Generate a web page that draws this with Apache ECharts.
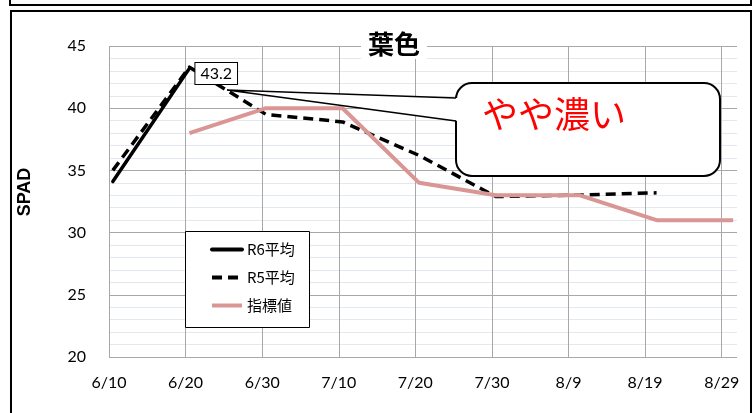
<!DOCTYPE html>
<html>
<head>
<meta charset="utf-8">
<script src="https://cdn.jsdelivr.net/npm/echarts@6/dist/echarts.min.js"></script>
<style>
  html, body { margin: 0; padding: 0; background: #fff; }
  #chart { width: 753px; height: 413px; }
</style>
</head>
<body>
<div id="chart"></div>
<script>
// Tick labels of the date axis (every 10 days from 6/10)
const xTickLabels = ['6/10', '6/20', '6/30', '7/10', '7/20', '7/30', '8/9', '8/19', '8/29'];

// R6 average
const r6Dates  = ['6/10', '6/20'];
const r6Values = [34.1, 43.2];

// R5 average
const r5Dates  = ['6/10', '6/20', '6/30', '7/10', '7/20', '7/30', '8/9', '8/20'];
const r5Values = [35.0, 43.3, 39.5, 38.9, 36.2, 32.9, 33.0, 33.2];

// Target values
const stdDates  = ['6/20', '6/30', '7/10', '7/20', '7/30', '8/10', '8/20', '8/30'];
const stdValues = [38, 40, 40, 34, 33, 33, 31, 31];

const numFont = 'Lato, "Noto Sans", sans-serif';
const jpFont = '"Noto Sans CJK JP", "Noto Sans", sans-serif';

// days elapsed since 6/10
function dayIndex(s) {
  const [m, d] = s.split('/').map(Number);
  const offset = { 6: -10, 7: 20, 8: 51 };
  return offset[m] + d;
}
// each point sits in the middle of its day slot
function toPoints(dates, values) {
  return dates.map((d, i) => [dayIndex(d) + 0.5, values[i]]);
}

const r6Points = toPoints(r6Dates, r6Values);
const lastR6 = r6Points.length - 1;

const chart = echarts.init(document.getElementById('chart'), null, { renderer: 'canvas' });

chart.setOption({
  animation: false,
  backgroundColor: '#fff',
  title: {
    text: '葉色',
    left: 361,
    top: 29,
    padding: [2, 7],
    backgroundColor: '#fff',
    textStyle: { fontFamily: jpFont, fontSize: 26, fontWeight: 'bold', color: '#000' }
  },
  grid: { left: 109, right: 16, top: 46, bottom: 56 },
  xAxis: {
    type: 'value',
    min: 0,
    max: 82,
    interval: 10,
    axisLine: { show: false },
    axisTick: { show: false },
    axisLabel: {
      margin: 18,
      fontFamily: numFont,
      fontSize: 16,
      color: '#000',
      showMaxLabel: false,
      formatter: v => (v % 10 === 0 && xTickLabels[v / 10]) ? xTickLabels[v / 10] : ''
    },
    splitLine: { show: true, showMaxLine: false, lineStyle: { color: '#A8A8A8', width: 1 } }
  },
  yAxis: {
    type: 'value',
    min: 20,
    max: 45,
    interval: 5,
    axisLine: { show: false },
    axisTick: { show: false },
    axisLabel: { margin: 23, fontFamily: numFont, fontSize: 16, color: '#000' },
    splitLine: { show: true, lineStyle: { color: '#A8A8A8', width: 1 } },
    minorTick: { show: false, splitNumber: 5 },
    minorSplitLine: { show: true, lineStyle: { color: '#E3E8EF', width: 1 } }
  },
  legend: {
    orient: 'vertical',
    left: 205,
    top: 237,
    itemWidth: 30,
    itemHeight: 14,
    itemGap: 13,
    z: 10,
    itemStyle: { opacity: 0 },
    lineStyle: { width: 4 },
    textStyle: { fontFamily: jpFont, fontSize: 15, color: '#000' },
    data: ['R6平均', 'R5平均', '指標値']
  },
  series: [
    {
      name: 'R6平均',
      type: 'line',
      symbol: 'none',
      z: 3,
      lineStyle: { color: '#000', width: 3.5, join: 'round', cap: 'round' },
      itemStyle: { color: '#000' },
      data: r6Points
    },
    {
      name: 'R5平均',
      type: 'line',
      symbol: 'none',
      z: 3,
      lineStyle: { color: '#000', width: 3.5, type: [10, 6], join: 'round' },
      itemStyle: { color: '#000' },
      data: toPoints(r5Dates, r5Values)
    },
    {
      name: '指標値',
      type: 'line',
      symbol: 'none',
      z: 4,
      lineStyle: { color: '#D99694', width: 4, join: 'round', cap: 'butt' },
      itemStyle: { color: '#D99694' },
      data: toPoints(stdDates, stdValues)
    },
    {
      // value label of the latest R6 point
      name: 'R6ラベル',
      type: 'scatter',
      symbolSize: 0,
      z: 6,
      silent: true,
      itemStyle: { color: '#000', opacity: 1 },
      label: {
        show: true,
        position: 'right',
        distance: 6,
        offset: [0, 5],
        formatter: p => String(p.value[1]),
        fontFamily: numFont,
        fontSize: 16,
        color: '#000',
        opacity: 1,
        backgroundColor: '#fff',
        borderColor: '#000',
        borderWidth: 1,
        padding: [3, 5, 2, 5]
      },
      data: [r6Points[lastR6]]
    }
  ],
  graphic: [
    // outer frames
    { type: 'rect', z: 20, shape: { x: 10, y: -10, width: 741, height: 15 },
      style: { fill: 'none', stroke: '#000', lineWidth: 2 } },
    { type: 'rect', z: 20, shape: { x: 11, y: 11, width: 740, height: 420 },
      style: { fill: 'none', stroke: '#000', lineWidth: 2 } },
    // legend frame
    { type: 'rect', z: 5, shape: { x: 185.5, y: 231.5, width: 124, height: 96 },
      style: { fill: '#fff', stroke: '#000', lineWidth: 1 } },
    // speech bubble body
    { type: 'rect', z: 8, shape: { x: 456, y: 83, width: 264, height: 93, r: 16 },
      style: { fill: '#fff', stroke: '#000', lineWidth: 2 } },
    // bubble pointer: white wedge hiding the body edge, then its two sides
    { type: 'polygon', z: 8, shape: { points: [[227, 90], [458, 98], [458, 121]] },
      style: { fill: '#fff', stroke: 'none' } },
    { type: 'polyline', z: 8, shape: { points: [[456, 98], [227, 90], [456, 121]] },
      style: { fill: 'none', stroke: '#000', lineWidth: 1.6, lineJoin: 'miter' } },
    { type: 'text', z: 9, x: 482, y: 114,
      style: { text: 'やや濃い', fill: '#FF0000', font: '36px ' + jpFont, textAlign: 'left', textVerticalAlign: 'middle' } },
    // y-axis title
    { type: 'text', z: 9, x: 25, y: 192, rotation: Math.PI / 2,
      style: { text: 'SPAD', fill: '#000', font: 'bold 18px "Liberation Sans Narrow", "Liberation Sans", Arial, sans-serif', textAlign: 'center', textVerticalAlign: 'middle' } }
  ]
});
</script>
</body>
</html>
